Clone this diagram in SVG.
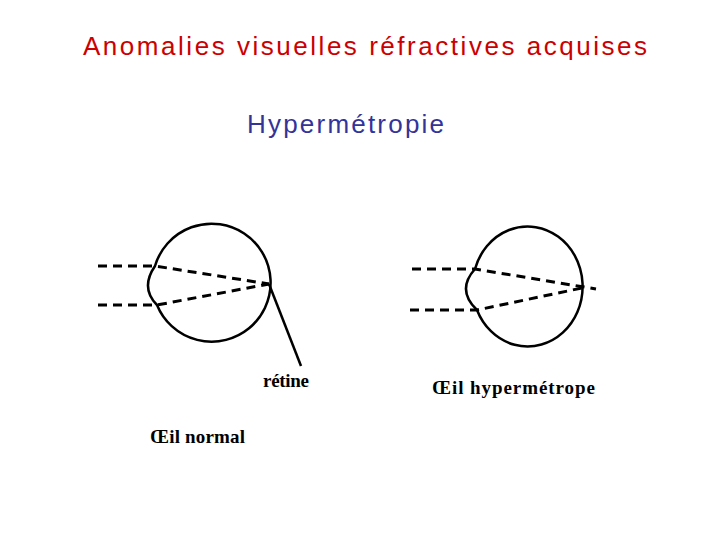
<svg xmlns="http://www.w3.org/2000/svg" width="720" height="540" viewBox="0 0 720 540">
<style>
.s{fill:none;stroke:#000;stroke-width:2.5}
.d{fill:none;stroke:#000;stroke-width:3;stroke-dasharray:9,6}
.t{font-family:"Liberation Serif",serif;font-size:19px;font-weight:bold;fill:#000}
</style>
<rect width="720" height="540" fill="#fff"/>
<text x="83" y="55" font-family="Liberation Sans,sans-serif" font-size="26" fill="#cc0000" textLength="564">Anomalies visuelles réfractives acquises</text>
<text x="247" y="133" font-family="Liberation Sans,sans-serif" font-size="26" fill="#333399" textLength="197">Hypermétropie</text>
<g id="eye-normal">
<path class="s" d="M155,266 A59,59 0 1 1 157,305 Q140,288 155,266 Z"/>
<line class="s" x1="269" y1="284" x2="301" y2="366"/>
</g>
<g id="eye-hyper">
<path class="s" d="M475,269 A55,60 0 1 1 477,310 Q456,290 475,269 Z"/>
</g>
<g id="connectors">
<polyline class="d" points="98,266 155,266 269,284"/>
<polyline class="d" points="98,305 157,305 269,284"/>
<polyline class="d" points="412,269 475,269 596,289"/>
<polyline class="d" points="410,310 477,310 582,288"/>
</g>
<text class="t" x="263" y="387" textLength="46">rétine</text>
<text class="t" x="432" y="394" textLength="163">Œil hypermétrope</text>
<text class="t" x="150" y="443" textLength="95">Œil normal</text>
</svg>
